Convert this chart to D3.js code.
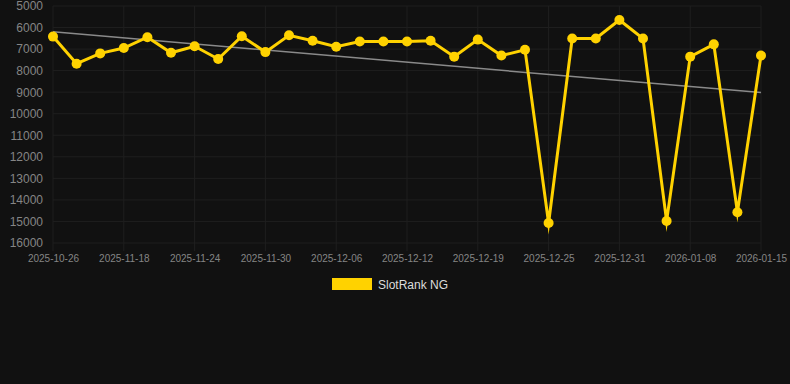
<!DOCTYPE html>
<html lang="en">
<head>
    <meta charset="UTF-8">
    <title>SlotRank NG</title>
    <script src="https://d3js.org/d3.v7.min.js"></script>
    <style>
        html, body { margin: 0; padding: 0; background: #111111; }
        svg { display: block; }
        .grid line { stroke: #1f1f1f; stroke-width: 1px; }
        .axis text { fill: #858585; font-family: Arial, "Liberation Sans", sans-serif; }
        .line {
            fill: none;
            stroke: #ffd200;
            stroke-width: 3px;
            stroke-linejoin: miter;
            stroke-miterlimit: 10;
        }
        .trend { fill: none; stroke: #8a8a8a; stroke-width: 1.5px; }
        .legend-text { fill: #dcdcdc; font-family: Arial, "Liberation Sans", sans-serif; font-size: 12px; }
    </style>
</head>
<body>
    <div id="chart"></div>
    <script>
        // dates shown on the x axis (every third one is labelled)
        var dates = [
            "2025-10-26", "2025-11-14", "2025-11-16",
            "2025-11-18", "2025-11-20", "2025-11-22",
            "2025-11-24", "2025-11-26", "2025-11-28",
            "2025-11-30", "2025-12-02", "2025-12-04",
            "2025-12-06", "2025-12-08", "2025-12-10",
            "2025-12-12", "2025-12-14", "2025-12-17",
            "2025-12-19", "2025-12-21", "2025-12-23",
            "2025-12-25", "2025-12-27", "2025-12-29",
            "2025-12-31", "2026-01-03", "2026-01-05",
            "2026-01-08", "2026-01-10", "2026-01-13",
            "2026-01-15"
        ];
        var ranks = [
            6420, 7680, 7200, 6950, 6450, 7170, 6870, 7460, 6400, 7140,
            6360, 6610, 6890, 6650, 6650, 6650, 6610, 7350, 6560, 7300,
            7030, 15070, 6510, 6510, 5650, 6510, 14980, 7350, 6780, 14570,
            7300
        ];
        var trend = [6200, 9020]; // start and end of the trend line
        var yTicks = [5000, 6000, 7000, 8000, 9000, 10000, 11000, 12000, 13000, 14000, 15000, 16000];
        var seriesName = "SlotRank NG";

        var width = 790, height = 384;

        var svg = d3.select("#chart").append("svg")
            .attr("width", width)
            .attr("height", height);

        var x = d3.scalePoint()
            .domain(dates)
            .range([53, 761]);

        var y = d3.scaleLinear()
            .domain([5000, 16000])
            .range([6, 243]);

        var labelled = dates.filter((d, i) => i % 3 === 0);

        // grid
        svg.append("g").attr("class", "grid")
            .selectAll("line").data(yTicks).enter().append("line")
            .attr("x1", 53).attr("x2", 761)
            .attr("y1", d => y(d)).attr("y2", d => y(d));

        svg.append("g").attr("class", "grid")
            .selectAll("line").data(labelled).enter().append("line")
            .attr("x1", d => x(d)).attr("x2", d => x(d))
            .attr("y1", 6).attr("y2", 251);

        // axes
        var yAxis = svg.append("g").attr("class", "axis")
            .attr("transform", "translate(53,0)")
            .call(d3.axisLeft(y).tickValues(yTicks).tickSize(0).tickPadding(10).tickFormat(d3.format("d")));
        yAxis.select(".domain").remove();
        yAxis.selectAll("text").style("font-size", "12px");

        var xAxis = svg.append("g").attr("class", "axis")
            .attr("transform", "translate(0,243)")
            .call(d3.axisBottom(x).tickValues(labelled).tickSize(0).tickPadding(12));
        xAxis.select(".domain").remove();
        xAxis.selectAll("text").style("font-size", "10px");

        // trend line
        svg.append("line")
            .attr("class", "trend")
            .attr("x1", x(dates[0])).attr("y1", y(trend[0]))
            .attr("x2", x(dates[dates.length - 1])).attr("y2", y(trend[1]));

        // series
        var line = d3.line()
            .x((d, i) => x(dates[i]))
            .y(d => y(d));

        svg.append("path")
            .datum(ranks)
            .attr("class", "line")
            .attr("d", line);

        svg.selectAll(".dot").data(ranks).enter().append("circle")
            .attr("class", "dot")
            .attr("cx", (d, i) => x(dates[i]))
            .attr("cy", d => y(d))
            .attr("r", 5)
            .attr("fill", "#ffd200");

        // legend
        var legend = svg.append("g").attr("transform", "translate(332,278)");
        legend.append("rect")
            .attr("width", 40).attr("height", 12)
            .attr("fill", "#ffd200");
        legend.append("text")
            .attr("class", "legend-text")
            .attr("x", 46).attr("y", 10.5)
            .text(seriesName);
    </script>
</body>
</html>
